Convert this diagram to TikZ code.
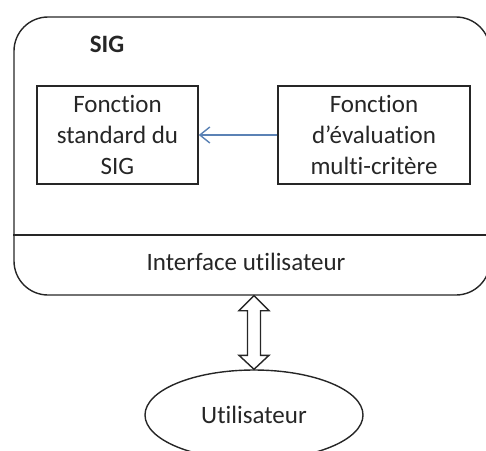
\documentclass[tikz,border=0pt]{standalone}
\usepackage{fontspec}
\setmainfont{Carlito}[Ligatures=NoCommon]
\usepackage{tikz}
\usetikzlibrary{arrows.meta,calc,positioning,shapes.geometric}
\definecolor{ink}{HTML}{262626}
\definecolor{flow}{HTML}{5B82B5}

\begin{document}
\begin{tikzpicture}[x=0.5pt, y=-0.5pt, line width=0.7pt,
      every node/.style={font=\fontsize{12.5}{15.5}\selectfont, text=ink},
      fbox/.style={draw=ink, align=center, minimum height=49pt, inner sep=0pt},
      >={Straight Barb[length=5pt, width=8pt]}]
    \useasboundingbox (0,0) rectangle (486,450);
    \node[draw=ink, rounded corners=17pt, minimum width=238pt, minimum height=139pt] (sig) at (252,156) {};
    \node[font=\fontsize{12.5}{15.5}\selectfont\bfseries] (sigtitle) at (107,44) {SIG};
    \node[fbox, minimum width=80.5pt] (std) at (117.5,135) {Fonction\\standard du\\SIG};
    \node[fbox, minimum width=96pt] (mce) at (374,135) {Fonction\\d’évaluation\\multi-critère};
    \draw[->, flow] (mce) -- (std);
    \draw[ink] (sig.west |- 0,235) -- (sig.east |- 0,235);
    \node (ui) at (246,262) {Interface utilisateur};
    \node[draw=ink, ellipse, minimum width=109pt, minimum height=45pt] (user) at (254,415) {};
    \node at (user.center) {Utilisateur};
    % double fleche entre l'interface et l'utilisateur
    \draw[ink] ($(user.north |- sig.south)$) -- ++(15,15) -- ++(-8.5,0)
      -- ($(user.north)+(6.5,-14)$) -- ++(8.5,0) -- (user.north) -- ++(-15,-14)
      -- ++(8.5,0) -- ($(user.north |- sig.south)+(-6.5,15)$) -- ++(-8.5,0) -- cycle;
  \end{tikzpicture}
\end{document}
